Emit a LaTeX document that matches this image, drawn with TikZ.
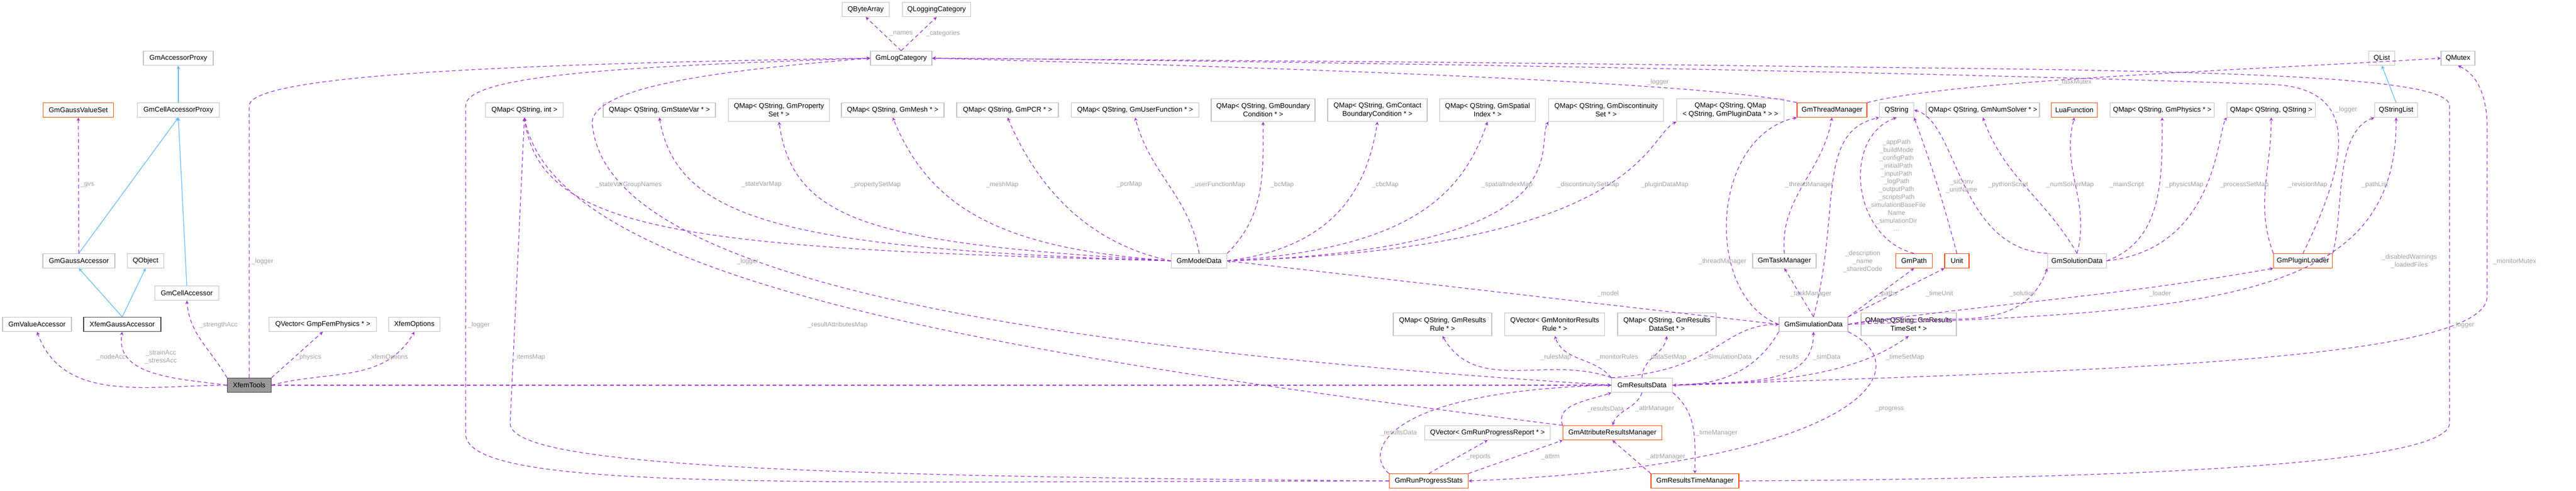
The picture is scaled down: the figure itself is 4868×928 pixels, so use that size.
\documentclass[tikz,border=0pt]{standalone}
\usepackage{fontspec}
\setmainfont{Liberation Sans}
\usetikzlibrary{arrows}
\definecolor{usecol}{HTML}{9A32CD}
\definecolor{isacol}{HTML}{63B8FF}
\definecolor{lblcol}{HTML}{A0A0A0}
\definecolor{redcol}{HTML}{FF4500}
\definecolor{boxcol}{HTML}{BFBFBF}
\tikzset{
  cls/.style={draw=boxcol, fill=white, rectangle, inner sep=1pt, align=center, line width=0.7pt,
    font=\fontsize{7.5}{9}\selectfont, minimum height=0.54cm, minimum width=#1*0.02cm},
  cls2/.style={cls=#1, minimum height=0.86cm},
  red/.style={draw=redcol},
  use/.style={draw=usecol, dash pattern=on 4pt off 3pt, line width=0.7pt, ->, >=stealth},
  isa/.style={draw=isacol, line width=0.7pt, ->, >=stealth},
  lbl/.style={text=lblcol, font=\fontsize{7}{8.5}\selectfont, align=center, inner sep=0pt}
}
\begin{document}
\begin{tikzpicture}[x=0.02cm, y=0.02cm]
  \useasboundingbox (0,0) rectangle (4868,-928);

  % classes
  \node[cls=132] (accProxy) at (337,-110) {GmAccessorProxy};
  \node[cls=133, red] (gaussVS) at (148,-208) {GmGaussValueSet};
  \node[cls=155] (cellAccProxy) at (337,-208) {GmCellAccessorProxy};
  \node[cls=136] (gaussAcc) at (149,-493) {GmGaussAccessor};
  \node[cls=69] (qobject) at (275,-493) {QObject};
  \node[cls=121] (cellAcc) at (353,-554) {GmCellAccessor};
  \node[cls=130] (valueAcc) at (70,-613) {GmValueAccessor};
  \node[cls=146, draw=black!75] (xGaussAcc) at (231,-613) {XfemGaussAccessor};
  \node[cls=203] (qvPhys) at (610,-613) {QVector< GmpFemPhysics * >};
  \node[cls=97] (xOptions) at (783,-613) {XfemOptions};
  \node[cls=83, draw=black!75, fill=black!40] (xTools) at (471,-728) {XfemTools};
  \node[cls=89] (byteArr) at (1636,-18) {QByteArray};
  \node[cls=129] (logCatQt) at (1770,-18) {QLoggingCategory};
  \node[cls=116] (logCat) at (1703,-110) {GmLogCategory};
  \node[cls=147] (mapInt) at (991,-208) {QMap< QString, int >};
  \node[cls=212] (mapStateVar) at (1246,-208) {QMap< QString, GmStateVar * >};
  \node[cls2=191] (mapPropSet) at (1472,-208) {QMap< QString, GmProperty\\Set * >};
  \node[cls=194] (mapMesh) at (1687,-208) {QMap< QString, GmMesh * >};
  \node[cls=192] (mapPcr) at (1904,-208) {QMap< QString, GmPCR * >};
  \node[cls=241] (mapUserFn) at (2145,-208) {QMap< QString, GmUserFunction * >};
  \node[cls2=196] (mapBc) at (2387,-208) {QMap< QString, GmBoundary\\Condition * >};
  \node[cls2=188] (mapCbc) at (2603,-208) {QMap< QString, GmContact\\BoundaryCondition * >};
  \node[cls2=181] (mapSpatial) at (2811,-208) {QMap< QString, GmSpatial\\Index * >};
  \node[cls2=217] (mapDisc) at (3035,-208) {QMap< QString, GmDiscontinuity\\Set * >};
  \node[cls2=203] (mapPlugin) at (3270,-208) {QMap< QString, QMap\\< QString, GmPluginData * > >};
  \node[cls=132, red] (threadMgr) at (3462,-208) {GmThreadManager};
  \node[cls=65] (qstring) at (3584,-208) {QString};
  \node[cls=214] (mapSolver) at (3747,-208) {QMap< QString, GmNumSolver * >};
  \node[cls=87, red] (luaFn) at (3920,-208) {LuaFunction};
  \node[cls=197] (mapPhys) at (4086,-208) {QMap< QString, GmPhysics * >};
  \node[cls=167] (mapStrStr) at (4292,-208) {QMap< QString, QString >};
  \node[cls=49] (qlist) at (4501,-110) {QList};
  \node[cls=64] (qmutex) at (4645,-110) {QMutex};
  \node[cls=81] (qstrList) at (4528,-208) {QStringList};
  \node[cls=105] (modelData) at (2266,-493) {GmModelData};
  \node[cls=120] (taskMgr) at (3372,-493) {GmTaskManager};
  \node[cls=69, red] (gmPath) at (3617,-493) {GmPath};
  \node[cls=46, red] (unit) at (3698,-493) {Unit};
  \node[cls=111] (solution) at (3925,-493) {GmSolutionData};
  \node[cls=111, red] (loader) at (4352,-493) {GmPluginLoader};
  \node[cls2=186] (mapRule) at (2726,-613) {QMap< QString, GmResults\\Rule * >};
  \node[cls2=189] (vecMonitor) at (2938,-613) {QVector< GmMonitorResults\\Rule * >};
  \node[cls2=186] (mapDataSet) at (3150,-613) {QMap< QString, GmResults\\DataSet * >};
  \node[cls=130] (simData) at (3427,-613) {GmSimulationData};
  \node[cls2=180] (mapTimeSet) at (3607,-613) {QMap< QString, GmResults\\TimeSet * >};
  \node[cls=115] (resultsData) at (3103,-728) {GmResultsData};
  \node[cls=237] (vecReport) at (2811,-818) {QVector< GmRunProgressReport * >};
  \node[cls=187, red] (attrMgr) at (3047,-818) {GmAttributeResultsManager};
  \node[cls=149, red] (progStats) at (2700,-909) {GmRunProgressStats};
  \node[cls=166, red] (timeMgr) at (3203,-909) {GmResultsTimeManager};

  % inheritance
  \draw[isa] (cellAccProxy) -- (accProxy);
  \draw[isa] (gaussAcc.north) -- (cellAccProxy.south);
  \draw[isa] (cellAcc.north) -- (cellAccProxy.south);
  \draw[isa] (xGaussAcc.north) -- (gaussAcc.south);
  \draw[isa] (xGaussAcc.north) -- (qobject.south);
  \draw[isa] (qstrList.north) -- (qlist.south);

  % XfemTools side
  \draw[use] (gaussAcc.north) -- (gaussVS.south);
  \draw[use] (xTools.west) to[out=180,in=-70] (valueAcc.south);
  \draw[use] (xTools.west) to[out=172,in=-100] (xGaussAcc.south);
  \draw[use] (xTools.north west) to[out=120,in=-85] (cellAcc.south);
  \draw[use] (xTools.north east) -- (qvPhys.south);
  \draw[use] (xTools.east) to[out=15,in=-120] (xOptions.south);
  \draw[use] (xTools.north) -- (471,-200) .. controls (471,-140) and (1000,-120) .. (logCat.west);
  \draw[use] (xTools.east) -- (resultsData.west);
  \draw[use] (logCat.north) -- (byteArr.south);
  \draw[use] (logCat.north) -- (logCatQt.south);

  % model data
  \draw[use] (modelData.west) .. controls (1300,-470) and (1020,-440) .. (mapInt.south);
  \draw[use] (modelData.west) .. controls (1500,-470) and (1280,-420) .. (mapStateVar.south);
  \draw[use] (modelData.west) .. controls (1650,-460) and (1500,-420) .. (mapPropSet.south);
  \draw[use] (modelData.west) .. controls (1900,-470) and (1760,-400) .. (mapMesh.south);
  \draw[use] (modelData.west) .. controls (2100,-470) and (1980,-400) .. (mapPcr.south);
  \draw[use] (modelData.north) to[out=100,in=-75] (mapUserFn.south);
  \draw[use] (modelData.north east) to[out=45,in=-90] (mapBc.south);
  \draw[use] (modelData.east) .. controls (2500,-470) and (2580,-380) .. (mapCbc.south);
  \draw[use] (modelData.east) .. controls (2650,-470) and (2760,-380) .. (mapSpatial.south);
  \draw[use] (modelData.east) .. controls (3000,-470) and (2900,-280) .. (mapDisc.south west);
  \draw[use] (modelData.east) .. controls (3100,-470) and (3110,-260) .. (mapPlugin.south west);

  % simulation data
  \draw[use] (simData.west) -- (modelData.east);
  \draw[use] (simData.west) .. controls (3220,-560) and (3230,-260) .. (threadMgr.south west);
  \draw[use] (taskMgr.north) to[out=95,in=-100] (threadMgr.south);
  \draw[use] (simData.north) -- (taskMgr.south);
  \draw[use] (simData.north) .. controls (3480,-400) and (3430,-250) .. (qstring.south west);
  \draw[use] (gmPath.north) .. controls (3500,-450) and (3480,-260) .. (qstring.south);
  \draw[use] (unit.north) to[out=105,in=-70] (qstring.south east);
  \draw[use] (solution.north west) .. controls (3700,-470) and (3700,-230) .. (qstring.east);
  \draw[use] (solution.north) to[out=120,in=-70] (mapSolver.south);
  \draw[use] (solution.north) to[out=75,in=-105] (luaFn.south);
  \draw[use] (solution.east) to[out=20,in=-90] (mapPhys.south);
  \draw[use] (solution.east) .. controls (4190,-470) and (4190,-250) .. (mapStrStr.south west);
  \draw[use] (loader.north west) to[out=110,in=-90] (mapStrStr.south);
  \draw[use] (loader.north east) .. controls (4430,-400) and (4410,-250) .. (qstrList.south west);
  \draw[use] (loader.north) .. controls (4440,-300) and (4460,-170) .. (4300,-160)
    .. controls (3500,-130) and (2100,-112) .. (logCat.east);
  \draw[use] (simData.north east) -- (gmPath.south);
  \draw[use] (simData.north east) -- (unit.south west);
  \draw[use] (simData.east) to[out=12,in=-110] (solution.south west);
  \draw[use] (simData.east) to[out=8,in=190] (loader.south west);
  \draw[use] (simData.east) .. controls (4200,-590) and (4530,-560) .. (qstrList.south);
  \draw[use] (threadMgr.north west) .. controls (3200,-150) and (2200,-122) .. (logCat.east);
  \draw[use] (threadMgr.north east) .. controls (3700,-150) and (4300,-130) .. (qmutex.west);

  % results data
  \draw[use] (resultsData.north west) to[out=160,in=-60] (mapRule.south);
  \draw[use] (resultsData.north west) to[out=130,in=-70] (vecMonitor.south);
  \draw[use] (resultsData.north) to[out=90,in=-100] (mapDataSet.south);
  \draw[use] (resultsData.north west) .. controls (3250,-700) and (3250,-615) .. (simData.west);
  \draw[use] (simData.south west) to[out=-120,in=0] (resultsData.east);
  \draw[use] (resultsData.east) to[out=5,in=-90] (simData.south);
  \draw[use] (resultsData.east) .. controls (3420,-725) and (3530,-690) .. (mapTimeSet.south);
  \draw[use] (resultsData.south) to[out=-110,in=70] (attrMgr.north);
  \draw[use] (attrMgr.north west) to[out=110,in=200] (resultsData.south west);
  \draw[use] (resultsData.south east) to[out=-40,in=90] (timeMgr.north);
  \draw[use] (progStats.north west) .. controls (2580,-860) and (2600,-740) .. (resultsData.west);
  \draw[use] (progStats.north) -- (vecReport.south);
  \draw[use] (progStats.north east) -- (attrMgr.south west);
  \draw[use] (timeMgr.north west) -- (attrMgr.south);
  \draw[use] (simData.south east) .. controls (3640,-700) and (3500,-880) .. (progStats.east);
  \draw[use] (attrMgr.north west) .. controls (1800,-660) and (1050,-520) .. (mapInt.south);
  \draw[use] (progStats.west) .. controls (1500,-900) and (964,-880) .. (964,-800) -- (mapInt.south);
  \draw[use] (progStats.west) .. controls (1500,-910) and (880,-930) .. (880,-820) -- (880,-200)
    .. controls (880,-140) and (1200,-125) .. (logCat.west);
  \draw[use] (resultsData.west) .. controls (1800,-650) and (1150,-500) .. (1120,-240)
    .. controls (1100,-160) and (1400,-130) .. (logCat.west);
  \draw[use] (resultsData.east) .. controls (4000,-700) and (4700,-680) .. (4700,-560)
    -- (4700,-240) .. controls (4700,-180) and (4680,-140) .. (qmutex.south);
  \draw[use] (timeMgr.east) .. controls (4000,-905) and (4629,-880) .. (4629,-800)
    -- (4629,-200) .. controls (4629,-150) and (4300,-135) .. (3600,-128)
    .. controls (2800,-118) .. (logCat.east);

  % labels
  \node[lbl] (lGvs) at (165,-349) {\_gvs};
  \node[lbl] (lLog1) at (496,-494) {\_logger};
  \node[lbl] (lStrength) at (413,-614) {\_strengthAcc};
  \node[lbl] (lNode) at (210,-675) {\_nodeAcc};
  \node[lbl] (lStrain) at (304,-675) {\_strainAcc\\\_stressAcc};
  \node[lbl] (lPhys) at (583,-675) {\_physics};
  \node[lbl] (lXOpt) at (733,-675) {\_xfemOptions};
  \node[lbl] (lLog2) at (905,-614) {\_logger};
  \node[lbl] (lItems) at (1000,-675) {\_itemsMap};
  \node[lbl] (lNames) at (1703,-63) {\_names};
  \node[lbl] (lCats) at (1782,-63) {\_categories};
  \node[lbl] (lGroup) at (1188,-349) {\_stateVarGroupNames};
  \node[lbl] (lStateVar) at (1439,-349) {\_stateVarMap};
  \node[lbl] (lProp) at (1655,-349) {\_propertySetMap};
  \node[lbl] (lMesh) at (1894,-349) {\_meshMap};
  \node[lbl] (lPcr) at (2134,-349) {\_pcrMap};
  \node[lbl] (lUser) at (2302,-349) {\_userFunctionMap};
  \node[lbl] (lLog3) at (1413,-494) {\_logger};
  \node[lbl] (lAttrMap) at (1583,-614) {\_resultAttributesMap};
  \node[lbl] (lBc) at (2423,-349) {\_bcMap};
  \node[lbl] (lCbc) at (2618,-349) {\_cbcMap};
  \node[lbl] (lSpatial) at (2848,-349) {\_spatialIndexMap};
  \node[lbl] (lDisc) at (3001,-349) {\_discontinuitySetMap};
  \node[lbl] (lPlugin) at (3146,-349) {\_pluginDataMap};
  \node[lbl] (lLog4) at (3133,-155) {\_logger};
  \node[lbl] (lThread1) at (3419,-349) {\_threadManager};
  \node[lbl] (lThread2) at (3255,-494) {\_threadManager};
  \node[lbl] (lDescr) at (3520,-494) {\_description\\\_name\\\_sharedCode};
  \node[lbl] (lPaths) at (3584,-350) {\_appPath\\\_buildMode\\\_configPath\\\_initialPath\\\_inputPath\\\_logPath\\\_outputPath\\\_scriptsPath\\\_simulationBaseFile\\Name\\\_simulationDir\\\dots};
  \node[lbl] (lTask) at (3422,-555) {\_taskManager};
  \node[lbl] (lModel) at (3039,-555) {\_model};
  \node[lbl] (lPathsM) at (3567,-555) {\_paths};
  \node[lbl] (lRules) at (2940,-675) {\_rulesMap};
  \node[lbl] (lMonitor) at (3056,-675) {\_monitorRules};
  \node[lbl] (lDataSet) at (3150,-675) {\_dataSetMap};
  \node[lbl] (lSim1) at (3265,-675) {\_SimulationData};
  \node[lbl] (lResults) at (3378,-675) {\_results};
  \node[lbl] (lSim2) at (3452,-675) {\_simData};
  \node[lbl] (lTimeSet) at (3600,-675) {\_timeSetMap};
  \node[lbl] (lRes1) at (3034,-773) {\_resultsData};
  \node[lbl] (lAttr1) at (3127,-773) {\_attrManager};
  \node[lbl] (lProgress) at (3571,-773) {\_progress};
  \node[lbl] (lRes2) at (2643,-818) {\_resultsData};
  \node[lbl] (lTimeMgr) at (3244,-818) {\_timeManager};
  \node[lbl] (lReports) at (2794,-864) {\_reports};
  \node[lbl] (lAttrm) at (2930,-864) {\_attrm};
  \node[lbl] (lAttr2) at (3148,-864) {\_attrManager};
  \node[lbl] (lTaskMutex) at (3921,-155) {\_taskMutex};
  \node[lbl] (lSi) at (3707,-352) {\_siConv\\\_unitName};
  \node[lbl] (lPython) at (3795,-349) {\_pythonScript};
  \node[lbl] (lSolver) at (3912,-349) {\_numSolverMap};
  \node[lbl] (lMain) at (4019,-349) {\_mainScript};
  \node[lbl] (lPhysMap) at (4128,-349) {\_physicsMap};
  \node[lbl] (lProc) at (4241,-349) {\_processSetMap};
  \node[lbl] (lRev) at (4361,-349) {\_revisionMap};
  \node[lbl] (lLog5) at (4434,-207) {\_logger};
  \node[lbl] (lPathList) at (4488,-349) {\_pathList};
  \node[lbl] (lWarn) at (4553,-494) {\_disabledWarnings\\\_loadedFiles};
  \node[lbl] (lMutex) at (4752,-494) {\_monitorMutex};
  \node[lbl] (lLog6) at (4655,-614) {\_logger};
  \node[lbl] (lTimeUnit) at (3665,-555) {\_timeUnit};
  \node[lbl] (lSolution) at (3822,-555) {\_solution};
  \node[lbl] (lLoader) at (4082,-555) {\_loader};
\end{tikzpicture}
\end{document}
